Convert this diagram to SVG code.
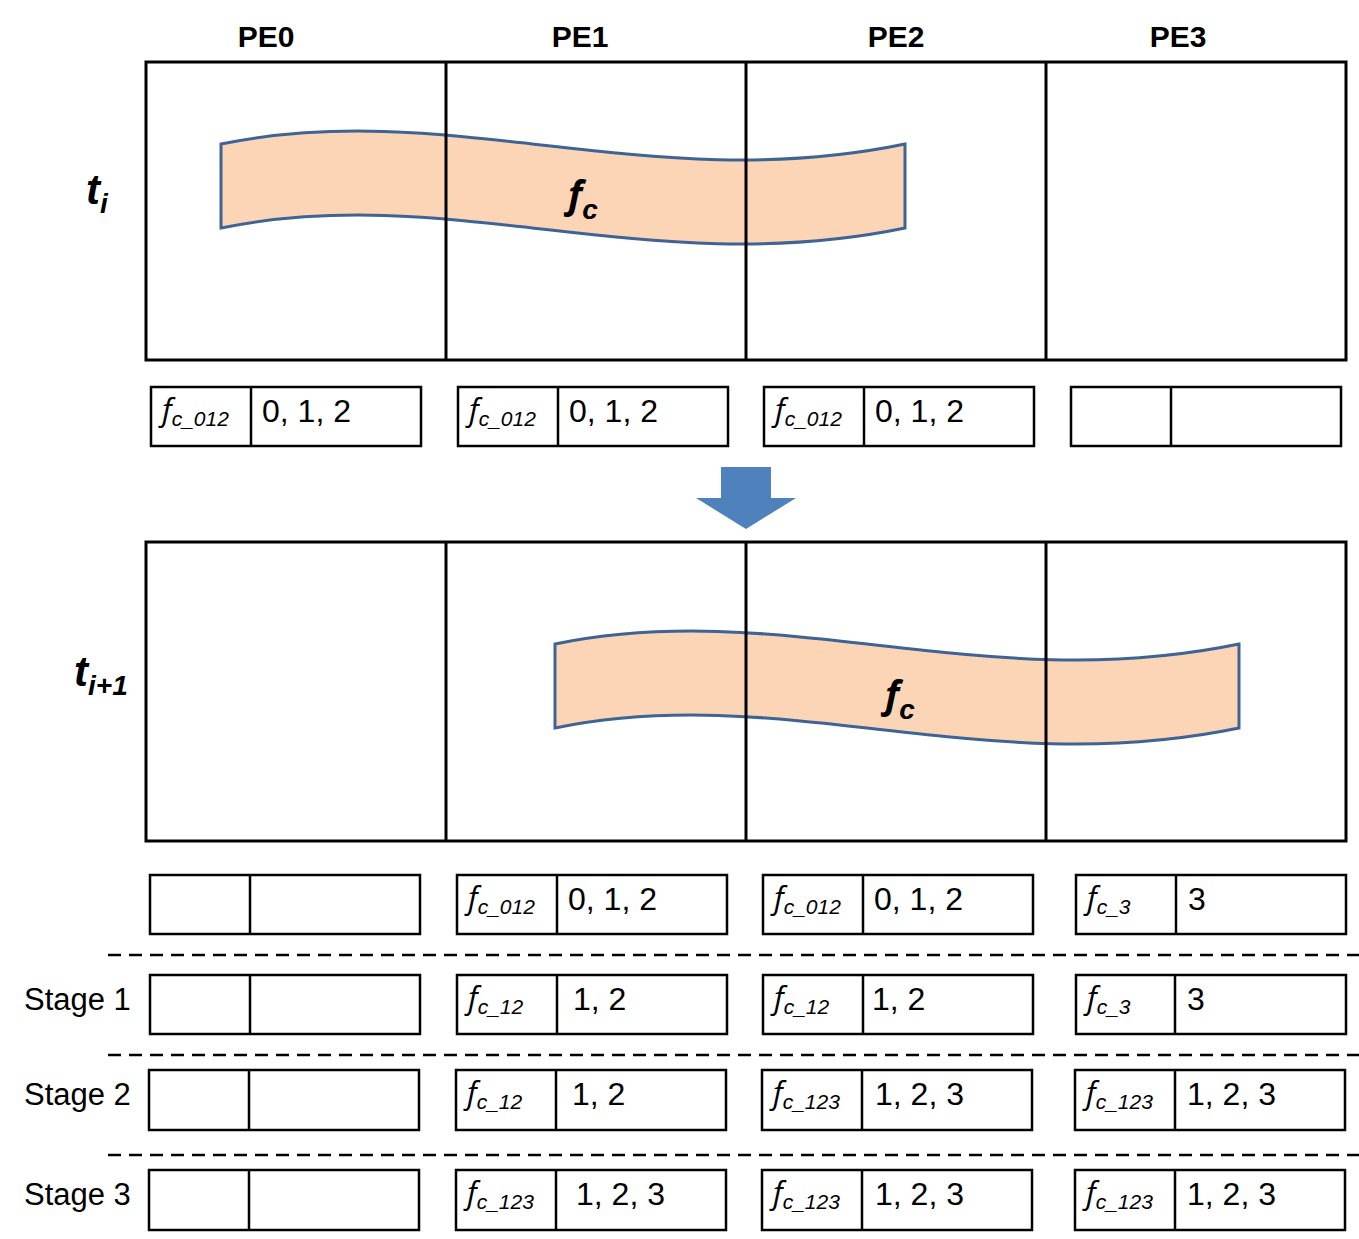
<svg xmlns="http://www.w3.org/2000/svg" width="1359" height="1239" viewBox="0 0 1359 1239">
<style>
.grid{fill:none;stroke:#000;stroke-width:3}
.cell{fill:#fff;stroke:#000;stroke-width:2.5}
.wave{fill:#fbd5b5;stroke:#3e6496;stroke-width:3}
.dash{stroke:#000;stroke-width:2.5;stroke-dasharray:13 8}
.pe{font-family:"Liberation Sans",Arial,sans-serif;font-weight:bold;font-size:30px;text-anchor:middle}
.lbl{font-family:"Liberation Sans",Arial,sans-serif;font-size:31px}
.val{font-family:"Liberation Sans",Arial,sans-serif;font-size:32px}
.fi{font-family:"Open Sans","Liberation Sans",sans-serif;font-style:italic;font-size:31px}
.sub{font-family:"Liberation Sans",Arial,sans-serif;font-style:italic;font-size:21px}
.big{font-family:"Liberation Sans",Arial,sans-serif;font-style:italic;font-weight:bold;font-size:42px}
.bigf{font-family:"Open Sans","Liberation Sans",sans-serif;font-style:italic;font-weight:bold;font-size:38px}
.bigsub{font-family:"Liberation Sans",Arial,sans-serif;font-style:italic;font-weight:bold;font-size:28px}
</style>
<defs>
<path id="wv" d="M221,144 C450,97 650,197 905,144 L905,228 C650,281 450,181 221,228 Z"/>
</defs>
<rect width="1359" height="1239" fill="#fff"/>

<g id="pe-headers">
<text class="pe" x="266" y="47">PE0</text>
<text class="pe" x="580" y="47">PE1</text>
<text class="pe" x="896" y="47">PE2</text>
<text class="pe" x="1178" y="47">PE3</text>
</g>

<g id="time-ti">
<text class="big" x="86" y="204">t<tspan class="bigsub" dy="9">i</tspan></text>
</g>
<g id="time-ti1">
<text class="big" x="74" y="686">t<tspan class="bigsub" dy="9">i+1</tspan></text>
</g>

<g id="wave-top">
<use href="#wv" class="wave"/>
<text class="bigf" x="568" y="208">f<tspan class="bigsub" dy="11">c</tspan></text>
</g>
<g id="wave-bottom">
<use href="#wv" class="wave" transform="translate(334,500)"/>
<text class="bigf" x="885" y="708">f<tspan class="bigsub" dy="11">c</tspan></text>
</g>

<g id="grid-top">
<rect class="grid" x="146" y="62" width="1200" height="298"/>
<line class="grid" x1="446" y1="62" x2="446" y2="360"/>
<line class="grid" x1="746" y1="62" x2="746" y2="360"/>
<line class="grid" x1="1046" y1="62" x2="1046" y2="360"/>
</g>
<g id="grid-bottom">
<rect class="grid" x="146" y="542" width="1200" height="299"/>
<line class="grid" x1="446" y1="542" x2="446" y2="841"/>
<line class="grid" x1="746" y1="542" x2="746" y2="841"/>
<line class="grid" x1="1046" y1="542" x2="1046" y2="841"/>
</g>

<g id="connectors">
<polygon points="721,467 771,467 771,498 796,498 746,529 696,498 721,498" fill="#4f81bd"/>
<line class="dash" x1="108" y1="955" x2="1359" y2="955"/>
<line class="dash" x1="108" y1="1055" x2="1359" y2="1055"/>
<line class="dash" x1="108" y1="1155" x2="1359" y2="1155"/>
</g>

<!-- Row ti -->
<g id="ti-pe0"><rect class="cell" x="151" y="387" width="270" height="59"/><line class="cell" x1="251" y1="387" x2="251" y2="446"/>
<text class="fi" x="162" y="421">f<tspan class="sub" dy="5">c_012</tspan></text><text class="val" x="262" y="422">0, 1, 2</text></g>
<g id="ti-pe1"><rect class="cell" x="458" y="387" width="270" height="59"/><line class="cell" x1="558" y1="387" x2="558" y2="446"/>
<text class="fi" x="469" y="421">f<tspan class="sub" dy="5">c_012</tspan></text><text class="val" x="569" y="422">0, 1, 2</text></g>
<g id="ti-pe2"><rect class="cell" x="764" y="387" width="270" height="59"/><line class="cell" x1="864" y1="387" x2="864" y2="446"/>
<text class="fi" x="775" y="421">f<tspan class="sub" dy="5">c_012</tspan></text><text class="val" x="875" y="422">0, 1, 2</text></g>
<g id="ti-pe3"><rect class="cell" x="1071" y="387" width="270" height="59"/><line class="cell" x1="1171" y1="387" x2="1171" y2="446"/></g>

<!-- Row ti+1 -->
<g id="ti1-pe0"><rect class="cell" x="150" y="875" width="270" height="59"/><line class="cell" x1="250" y1="875" x2="250" y2="934"/></g>
<g id="ti1-pe1"><rect class="cell" x="457" y="875" width="270" height="59"/><line class="cell" x1="557" y1="875" x2="557" y2="934"/>
<text class="fi" x="468" y="909">f<tspan class="sub" dy="5">c_012</tspan></text><text class="val" x="568" y="910">0, 1, 2</text></g>
<g id="ti1-pe2"><rect class="cell" x="763" y="875" width="270" height="59"/><line class="cell" x1="863" y1="875" x2="863" y2="934"/>
<text class="fi" x="774" y="909">f<tspan class="sub" dy="5">c_012</tspan></text><text class="val" x="874" y="910">0, 1, 2</text></g>
<g id="ti1-pe3"><rect class="cell" x="1076" y="875" width="270" height="59"/><line class="cell" x1="1176" y1="875" x2="1176" y2="934"/>
<text class="fi" x="1087" y="909">f<tspan class="sub" dy="5">c_3</tspan></text><text class="val" x="1188" y="910">3</text></g>

<!-- Stage 1 -->
<g id="stage1-label"><text class="lbl" x="24" y="1010">Stage 1</text></g>
<g id="s1-pe0"><rect class="cell" x="150" y="975" width="270" height="59"/><line class="cell" x1="250" y1="975" x2="250" y2="1034"/></g>
<g id="s1-pe1"><rect class="cell" x="457" y="975" width="270" height="59"/><line class="cell" x1="557" y1="975" x2="557" y2="1034"/>
<text class="fi" x="468" y="1009">f<tspan class="sub" dy="5">c_12</tspan></text><text class="val" x="573" y="1010">1, 2</text></g>
<g id="s1-pe2"><rect class="cell" x="763" y="975" width="270" height="59"/><line class="cell" x1="863" y1="975" x2="863" y2="1034"/>
<text class="fi" x="774" y="1009">f<tspan class="sub" dy="5">c_12</tspan></text><text class="val" x="872" y="1010">1, 2</text></g>
<g id="s1-pe3"><rect class="cell" x="1076" y="975" width="270" height="59"/><line class="cell" x1="1175" y1="975" x2="1175" y2="1034"/>
<text class="fi" x="1087" y="1009">f<tspan class="sub" dy="5">c_3</tspan></text><text class="val" x="1187" y="1010">3</text></g>

<!-- Stage 2 -->
<g id="stage2-label"><text class="lbl" x="24" y="1105">Stage 2</text></g>
<g id="s2-pe0"><rect class="cell" x="149" y="1070" width="270" height="60"/><line class="cell" x1="249" y1="1070" x2="249" y2="1130"/></g>
<g id="s2-pe1"><rect class="cell" x="456" y="1070" width="270" height="60"/><line class="cell" x1="556" y1="1070" x2="556" y2="1130"/>
<text class="fi" x="467" y="1104">f<tspan class="sub" dy="5">c_12</tspan></text><text class="val" x="572" y="1105">1, 2</text></g>
<g id="s2-pe2"><rect class="cell" x="762" y="1070" width="270" height="60"/><line class="cell" x1="862" y1="1070" x2="862" y2="1130"/>
<text class="fi" x="773" y="1104">f<tspan class="sub" dy="5">c_123</tspan></text><text class="val" x="875" y="1105">1, 2, 3</text></g>
<g id="s2-pe3"><rect class="cell" x="1075" y="1070" width="270" height="60"/><line class="cell" x1="1175" y1="1070" x2="1175" y2="1130"/>
<text class="fi" x="1086" y="1104">f<tspan class="sub" dy="5">c_123</tspan></text><text class="val" x="1187" y="1105">1, 2, 3</text></g>

<!-- Stage 3 -->
<g id="stage3-label"><text class="lbl" x="24" y="1205">Stage 3</text></g>
<g id="s3-pe0"><rect class="cell" x="149" y="1170" width="270" height="60"/><line class="cell" x1="249" y1="1170" x2="249" y2="1230"/></g>
<g id="s3-pe1"><rect class="cell" x="456" y="1170" width="270" height="60"/><line class="cell" x1="556" y1="1170" x2="556" y2="1230"/>
<text class="fi" x="467" y="1204">f<tspan class="sub" dy="5">c_123</tspan></text><text class="val" x="576" y="1205">1, 2, 3</text></g>
<g id="s3-pe2"><rect class="cell" x="762" y="1170" width="270" height="60"/><line class="cell" x1="862" y1="1170" x2="862" y2="1230"/>
<text class="fi" x="773" y="1204">f<tspan class="sub" dy="5">c_123</tspan></text><text class="val" x="875" y="1205">1, 2, 3</text></g>
<g id="s3-pe3"><rect class="cell" x="1075" y="1170" width="270" height="60"/><line class="cell" x1="1175" y1="1170" x2="1175" y2="1230"/>
<text class="fi" x="1086" y="1204">f<tspan class="sub" dy="5">c_123</tspan></text><text class="val" x="1187" y="1205">1, 2, 3</text></g>
</svg>
